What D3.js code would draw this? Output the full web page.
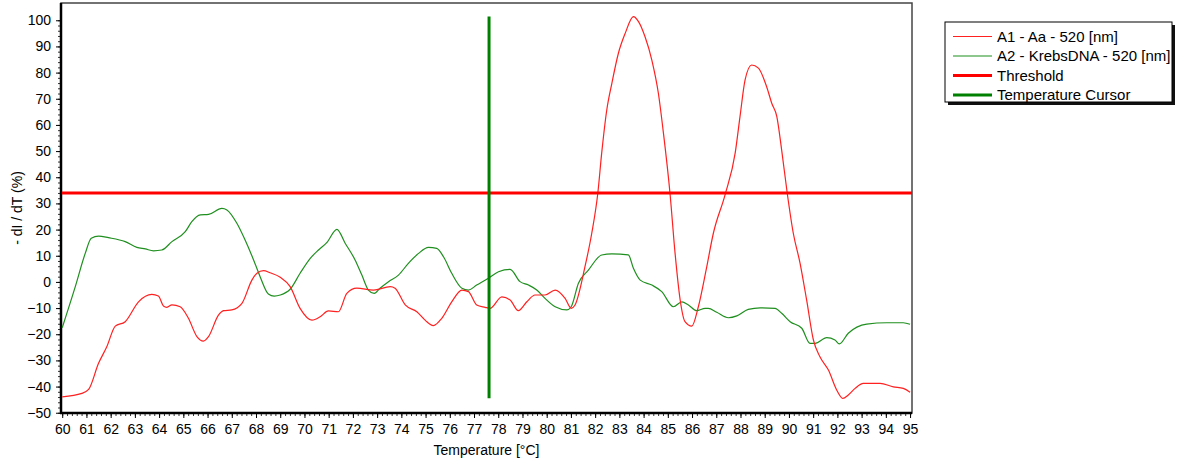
<!DOCTYPE html>
<html>
<head>
<meta charset="utf-8">
<script src="https://cdn.jsdelivr.net/npm/d3@7"></script>
<style>
	html, body { margin: 0; padding: 0; background: #fff; }
	svg { display: block; font-family: 'Liberation Sans', Arial, sans-serif; }
	.tick text { font-size: 14px; fill: #000; }
</style>
</head>
<body>
<div id="chart"></div>
<script>
'use strict';

// DATA
var a1Temps = [60.0, 60.81, 61.09, 61.5, 61.84, 62.19, 62.6, 63.15, 63.7, 63.97, 64.18, 64.32, 64.53, 64.87,
	65.21, 65.56, 65.83, 66.04, 66.45, 66.66, 67.0, 67.42, 67.83, 68.04, 68.31, 68.58, 69.0, 69.41, 69.82,
	70.31, 70.65, 70.99, 71.4, 71.75, 72.16, 72.85, 73.54, 73.74, 74.16, 74.64, 74.98, 75.32, 75.67, 76.08,
	76.5, 76.77, 77.11, 77.46, 77.66, 78.15, 78.49, 78.83, 79.18, 79.52, 79.93, 80.35, 80.76, 81.01, 81.17,
	81.58, 81.86, 82.11, 82.27, 82.48, 82.69, 82.96, 83.24, 83.58, 83.79, 84.06, 84.34, 84.61, 84.82, 85.09,
	85.3, 85.51, 85.71, 85.99, 86.26, 86.58, 86.88, 87.36, 87.78, 87.98, 88.19, 88.46, 88.74, 89.08, 89.29,
	89.5, 89.7, 89.93, 90.18, 90.46, 90.73, 91.01, 91.28, 91.63, 91.97, 92.22, 92.45, 92.73, 93.07, 93.76,
	94.31, 94.72, 95.0];
var a1Values = [-43.9, -42.6, -41.1, -31.1, -24.8, -16.9, -15.2, -7.6, -4.8, -5.4, -9.2, -9.7, -8.8, -9.5,
	-13.9, -20.9, -22.6, -20.9, -12.7, -11.0, -10.7, -8.2, 0.7, 3.3, 4.3, 3.5, 1.8, -1.8, -10.1,
	-14.6, -13.3, -11.1, -11.4, -4.4, -2.4, -3.1, -1.8, -2.4, -8.8, -11.4, -14.6, -16.7, -13.9, -7.6,
	-3.1, -3.7, -8.8, -9.7, -10.1, -5.7, -6.9, -11.0, -7.6, -5.0, -5.0, -3.1, -6.3, -10.1, -8.8,
	5.8, 18.6, 33.9, 49.2, 65.7, 75.9, 87.4, 95.0, 101.4, 99.5, 93.7, 84.8, 72.1, 56.8, 33.9,
	10.9, -6.9, -15.2, -16.9, -9.5, 4.5, 18.6, 33.2, 49.2, 63.2, 77.2, 82.9, 81.7, 74.6, 68.3,
	63.2, 50.4, 33.9, 18.6, 7.1, -6.9, -22.2, -28.6, -33.7, -41.3, -44.5, -43.2, -40.7, -38.8, -38.8,
	-40.1, -40.7, -42.2];

var a2Temps = [60.0, 60.54, 60.95, 61.2, 61.5, 61.91, 62.6, 63.08, 63.43, 63.77, 64.11, 64.53, 65.08, 65.35,
	65.7, 66.04, 66.59, 66.8, 67.21, 67.55, 67.9, 68.17, 68.51, 68.75, 69.0, 69.41, 69.82, 70.24, 70.58,
	70.92, 71.34, 71.68, 72.09, 72.37, 72.64, 72.88, 73.12, 73.47, 73.88, 74.29, 74.71, 75.12, 75.46, 75.74,
	76.08, 76.5, 76.77, 77.11, 77.59, 78.01, 78.49, 78.9, 79.25, 79.59, 79.93, 80.35, 80.83, 81.01, 81.31,
	81.72, 82.27, 82.69, 83.37, 83.58, 83.86, 84.34, 84.75, 85.23, 85.58, 85.85, 86.19, 86.54, 86.67, 87.02,
	87.5, 87.85, 88.32, 88.81, 89.43, 89.7, 90.05, 90.53, 90.87, 91.08, 91.56, 91.9, 92.08, 92.45, 93.21,
	94.04, 94.72, 95.0];
var a2Values = [-17.5, -1.8, 10.9, 16.7, 17.5, 16.9, 15.4, 13.2, 12.6, 11.9, 12.2, 15.4, 19.2, 23.0,
	25.6, 25.8, 28.1, 27.5, 22.4, 16.0, 8.4, 2.0, -4.6, -5.4, -5.0, -2.8, 3.3, 9.0, 12.2,
	15.0, 20.1, 14.8, 8.4, 2.6, -3.1, -4.4, -2.4, 0.1, 2.6, 7.1, 10.9, 13.2, 12.8, 9.6,
	3.3, -2.4, -3.1, -1.2, 1.4, 3.9, 4.8, 0.1, -1.2, -3.1, -6.3, -9.5, -10.7, -9.5, -0.5,
	4.5, 10.3, 10.7, 10.3, 5.2, 0.7, -1.2, -3.7, -9.5, -7.6, -8.8, -11.0, -10.1, -10.1, -11.6,
	-13.7, -13.0, -10.5, -9.9, -10.1, -12.0, -15.2, -17.7, -23.5, -23.5, -21.3, -22.2, -23.7, -19.6, -16.1,
	-15.6, -15.6, -16.2];

var thresholdValue = 34;
var cursorTemp = 77.62;

var xTickValues = d3.range(60, 96, 1);
var yTickValues = d3.range(-50, 101, 10);
var legendLabels = ['A1 - Aa - 520 [nm]', 'A2 - KrebsDNA - 520 [nm]', 'Threshold', 'Temperature Cursor'];
var legendColors = ['#ff2020', '#1f8f1f', '#ff0000', '#008000'];
var legendWidths = [1.2, 1.2, 3, 3];

// SETUP
var width = 1178;
var height = 460;
var plot = {left: 61, right: 912, top: 3, bottom: 413};

var svg = d3.select('#chart').append('svg')
	.attr('width', width)
	.attr('height', height);

var xScale = d3.scaleLinear()
	.domain([59.95, 95.08])
	.range([plot.left, plot.right]);

var yScale = d3.scaleLinear()
	.domain([-50.1, 106.6])
	.range([plot.bottom, plot.top]);

function zip(temps, values){
	return temps.map(function(t, i){ return {t: t, v: values[i]}; });
}
var a1 = zip(a1Temps, a1Values);
var a2 = zip(a2Temps, a2Values);

// frame (top / right thin)
svg.append('rect')
	.attr('x', plot.left)
	.attr('y', plot.top)
	.attr('width', plot.right - plot.left)
	.attr('height', plot.bottom - plot.top)
	.attr('fill', '#fff')
	.attr('stroke', '#444')
	.attr('stroke-width', 1.5);

// AXES
var xMinor = svg.append('g')
	.attr('transform', 'translate(0,' + plot.bottom + ')')
	.call(d3.axisBottom(xScale).tickValues(d3.range(60, 95.01, 0.2)).tickSize(3).tickFormat(''));
xMinor.select('.domain').remove();
xMinor.selectAll('line').attr('stroke', '#333');

var yMinor = svg.append('g')
	.attr('transform', 'translate(' + plot.left + ',0)')
	.call(d3.axisLeft(yScale).tickValues(d3.range(-50, 101, 2)).tickSize(3).tickFormat(''));
yMinor.select('.domain').remove();
yMinor.selectAll('line').attr('stroke', '#333');

var xAxis = svg.append('g')
	.attr('transform', 'translate(0,' + plot.bottom + ')')
	.call(d3.axisBottom(xScale).tickValues(xTickValues).tickSize(5).tickPadding(6).tickFormat(d3.format('d')));
xAxis.select('.domain').remove();

var yAxis = svg.append('g')
	.attr('transform', 'translate(' + plot.left + ',0)')
	.call(d3.axisLeft(yScale).tickValues(yTickValues).tickSize(5).tickPadding(5).tickFormat(d3.format('d')));
yAxis.select('.domain').remove();

// thick left / bottom axis lines
svg.append('line')
	.attr('x1', plot.left).attr('x2', plot.left)
	.attr('y1', plot.top).attr('y2', plot.bottom + 1)
	.attr('stroke', '#000').attr('stroke-width', 2.5);
svg.append('line')
	.attr('x1', plot.left - 1).attr('x2', plot.right)
	.attr('y1', plot.bottom).attr('y2', plot.bottom)
	.attr('stroke', '#000').attr('stroke-width', 2.5);

// axis titles
svg.append('text')
	.attr('x', (plot.left + plot.right) / 2)
	.attr('y', 455)
	.attr('text-anchor', 'middle')
	.style('font-size', '14px')
	.text('Temperature [°C]');

svg.append('text')
	.attr('transform', 'translate(22,' + ((plot.top + plot.bottom) / 2) + ') rotate(-90)')
	.attr('text-anchor', 'middle')
	.style('font-size', '14px')
	.text('- dI / dT (%)');

// LINES
var line = d3.line()
	.x(function(d){ return xScale(d.t); })
	.y(function(d){ return yScale(d.v); })
	.curve(d3.curveMonotoneX);

var plotArea = svg.append('g');

plotArea.append('path')
	.datum(a2)
	.attr('fill', 'none')
	.attr('stroke', legendColors[1])
	.attr('stroke-width', 1.2)
	.attr('d', line);

plotArea.append('path')
	.datum(a1)
	.attr('fill', 'none')
	.attr('stroke', legendColors[0])
	.attr('stroke-width', 1.2)
	.attr('d', line);

// threshold
plotArea.append('line')
	.attr('x1', plot.left + 1).attr('x2', plot.right)
	.attr('y1', yScale(thresholdValue)).attr('y2', yScale(thresholdValue))
	.attr('stroke', legendColors[2])
	.attr('stroke-width', 3);

// temperature cursor spans min..max of the data
var allValues = a1Values.concat(a2Values);
plotArea.append('line')
	.attr('x1', xScale(cursorTemp)).attr('x2', xScale(cursorTemp))
	.attr('y1', yScale(d3.min(allValues))).attr('y2', yScale(d3.max(allValues)))
	.attr('stroke', legendColors[3])
	.attr('stroke-width', 3);

// LEGEND
var legend = svg.append('g').attr('transform', 'translate(945,22)');
var legW = 227, legH = 80;

legend.append('rect')
	.attr('x', 3).attr('y', 3)
	.attr('width', legW).attr('height', legH)
	.attr('fill', '#111');
legend.append('rect')
	.attr('x', 0).attr('y', 0)
	.attr('width', legW).attr('height', legH)
	.attr('fill', '#fff')
	.attr('stroke', '#000')
	.attr('stroke-width', 1);

var item = legend.selectAll('g.item').data(legendLabels)
	.enter().append('g')
	.attr('class', 'item')
	.attr('transform', function(d, i){ return 'translate(0,' + (14.5 + i * 19.5) + ')'; });

item.append('line')
	.attr('x1', 8).attr('x2', 47)
	.attr('stroke', function(d, i){ return legendColors[i]; })
	.attr('stroke-width', function(d, i){ return legendWidths[i]; });

item.append('text')
	.attr('x', 52)
	.attr('dy', '0.36em')
	.style('font-size', '15px')
	.text(function(d){ return d; });
</script>
</body>
</html>
